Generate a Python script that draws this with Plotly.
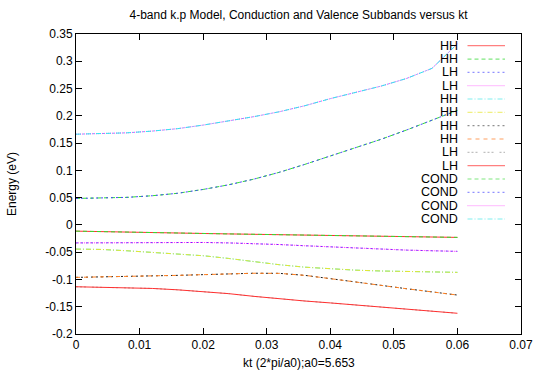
import plotly.graph_objects as go

# ---- data ----
kt = [0.000, 0.004, 0.008, 0.012, 0.016, 0.020, 0.024, 0.028,
      0.032, 0.036, 0.040, 0.044, 0.048, 0.052, 0.056, 0.060]

hh_top = [-0.0114, -0.0120, -0.0130, -0.0140, -0.0149, -0.0157, -0.0165, -0.0172,
          -0.0180, -0.0188, -0.0195, -0.0201, -0.0207, -0.0213, -0.0220, -0.0229]
lh_top = [-0.0330, -0.0326, -0.0322, -0.0320, -0.0320, -0.0322, -0.0330, -0.0342,
          -0.0360, -0.0382, -0.0405, -0.0428, -0.0447, -0.0462, -0.0474, -0.0485]
hh_mid = [-0.0443, -0.0450, -0.0474, -0.0500, -0.0528, -0.0565, -0.0615, -0.0675,
          -0.0730, -0.0775, -0.0808, -0.0830, -0.0845, -0.0856, -0.0864, -0.0870]
hh_low = [-0.0962, -0.0955, -0.0945, -0.0935, -0.0925, -0.0912, -0.0898, -0.0886,
          -0.0888, -0.0925, -0.0985, -0.1050, -0.1110, -0.1170, -0.1228, -0.1286]
lh_low = [-0.1134, -0.1140, -0.1150, -0.1165, -0.1190, -0.1220, -0.1260, -0.1310,
          -0.1355, -0.1395, -0.1430, -0.1465, -0.1505, -0.1545, -0.1582, -0.1620]
cond_lo = [0.0485, 0.0490, 0.0505, 0.0535, 0.0580, 0.0650, 0.0735, 0.0840,
           0.0965, 0.1110, 0.1260, 0.1415, 0.1570, 0.1740, 0.1915, 0.2100]
cond_hi = [0.1663, 0.1670, 0.1688, 0.1720, 0.1765, 0.1830, 0.1905, 0.1985,
           0.2075, 0.2185, 0.2315, 0.2430, 0.2545, 0.2685, 0.2870, 0.3320]

series_names = ["HH", "HH", "LH", "LH", "HH", "HH", "HH", "HH",
                "LH", "LH", "COND", "COND", "COND", "COND"]
series_values = [hh_top, hh_top, lh_top, lh_top, hh_mid, hh_mid, hh_low, hh_low,
                 lh_low, lh_low, cond_lo, cond_lo, cond_hi, cond_hi]

x_tick_vals = [0, 0.01, 0.02, 0.03, 0.04, 0.05, 0.06, 0.07]
x_tick_text = ["0", "0.01", "0.02", "0.03", "0.04", "0.05", "0.06", "0.07"]
y_tick_vals = [0.35, 0.3, 0.25, 0.2, 0.15, 0.1, 0.05, 0, -0.05, -0.1, -0.15, -0.2]
y_tick_text = ["0.35", "0.3", "0.25", "0.2", "0.15", "0.1", "0.05", "0",
               "-0.05", "-0.1", "-0.15", "-0.2"]

title_text = "4-band k.p Model, Conduction and Valence Subbands versus kt"
x_title = "kt (2*pi/a0);a0=5.653"
y_title = "Energy (eV)"

# ---- styles ----
colors = ["#ff3030", "#30e030", "#4848ff", "#ff30ff", "#30e8f0", "#e8e830",
          "#202020", "#ff8020", "#b0b0b0", "#ff3030", "#30e030", "#4848ff",
          "#ff30ff", "#30e8f0"]
key_colors = ["#ff8080", "#80e880", "#9090ff", "#ff90ff", "#80f0f0", "#f0f080",
              "#909090", "#ffa060", "#c0c0c0", "#ff8080", "#80e880", "#9090ff",
              "#ff90ff", "#80f0f0"]
dashes = ["solid", "4px,3px", "2px,3px", "1px,1px", "5px,2px,1px,2px",
          "5px,2px,1px,2px", "2px,3px", "4px,4px", "2px,2px,2px,2px,2px,6px",
          "solid", "4px,3px", "2px,3px", "1px,1px", "5px,2px,1px,2px"]

FONT = "Liberation Sans, Arial, Helvetica, sans-serif"

fig = go.Figure()
for name, vals, c, d in zip(series_names, series_values, colors, dashes):
    fig.add_trace(go.Scatter(x=kt, y=vals, mode="lines", name=name,
                             line=dict(color=c, width=1, dash=d),
                             showlegend=False))

L, R, T, B = 76, 12, 34, 45
W, H = 533, 379
pw, ph = W - L - R, H - T - B

# gnuplot-style key: text right-aligned, sample to the right
text_right = (459.5 - L) / pw
samp_x0 = (467.5 - L) / pw
samp_x1 = (505 - L) / pw
for i, (name, c, d) in enumerate(zip(series_names, key_colors, dashes)):
    yp = 45.7 + 13.33 * i
    yy = 1 - (yp - T) / ph
    fig.add_annotation(x=text_right, y=yy, xref="paper", yref="paper",
                       text=name, showarrow=False, xanchor="right", yanchor="middle",
                       font=dict(family=FONT, size=12.5, color="black"))
    fig.add_shape(type="line", xref="paper", yref="paper",
                  x0=samp_x0, x1=samp_x1, y0=yy, y1=yy,
                  line=dict(color=c, width=1.2, dash=d))

# axis titles
fig.add_annotation(x=0.5, y=-(363 - (H - B)) / ph, xref="paper", yref="paper",
                   text=x_title, showarrow=False, xanchor="center", yanchor="middle",
                   font=dict(family=FONT, size=12, color="black"))
fig.add_annotation(x=(12 - L) / pw, y=0.5, xref="paper", yref="paper",
                   text=y_title, showarrow=False, xanchor="center", yanchor="middle",
                   textangle=-90,
                   font=dict(family=FONT, size=12, color="black"))

axis_common = dict(showgrid=False, zeroline=False, showline=True, linecolor="black",
                   linewidth=1, mirror="ticks", ticks="inside", ticklen=6,
                   tickcolor="black", tickwidth=1, automargin=False,
                   ticklabeloverflow="allow",
                   tickfont=dict(family=FONT, size=12, color="black"))

fig.update_layout(
    width=W, height=H,
    margin=dict(l=L, r=R, t=T, b=B, pad=0, autoexpand=False),
    paper_bgcolor="white", plot_bgcolor="white",
    title=dict(text=title_text,
               x=0.5, xref="paper", y=1 - 15 / H, yref="container",
               xanchor="center", yanchor="middle",
               font=dict(family=FONT, size=12, color="black")),
    xaxis=dict(range=[0, 0.07], tickvals=x_tick_vals, ticktext=x_tick_text,
               **axis_common),
    yaxis=dict(range=[-0.2, 0.35], tickvals=y_tick_vals, ticktext=y_tick_text,
               **axis_common),
)

fig.write_html("out.html")
